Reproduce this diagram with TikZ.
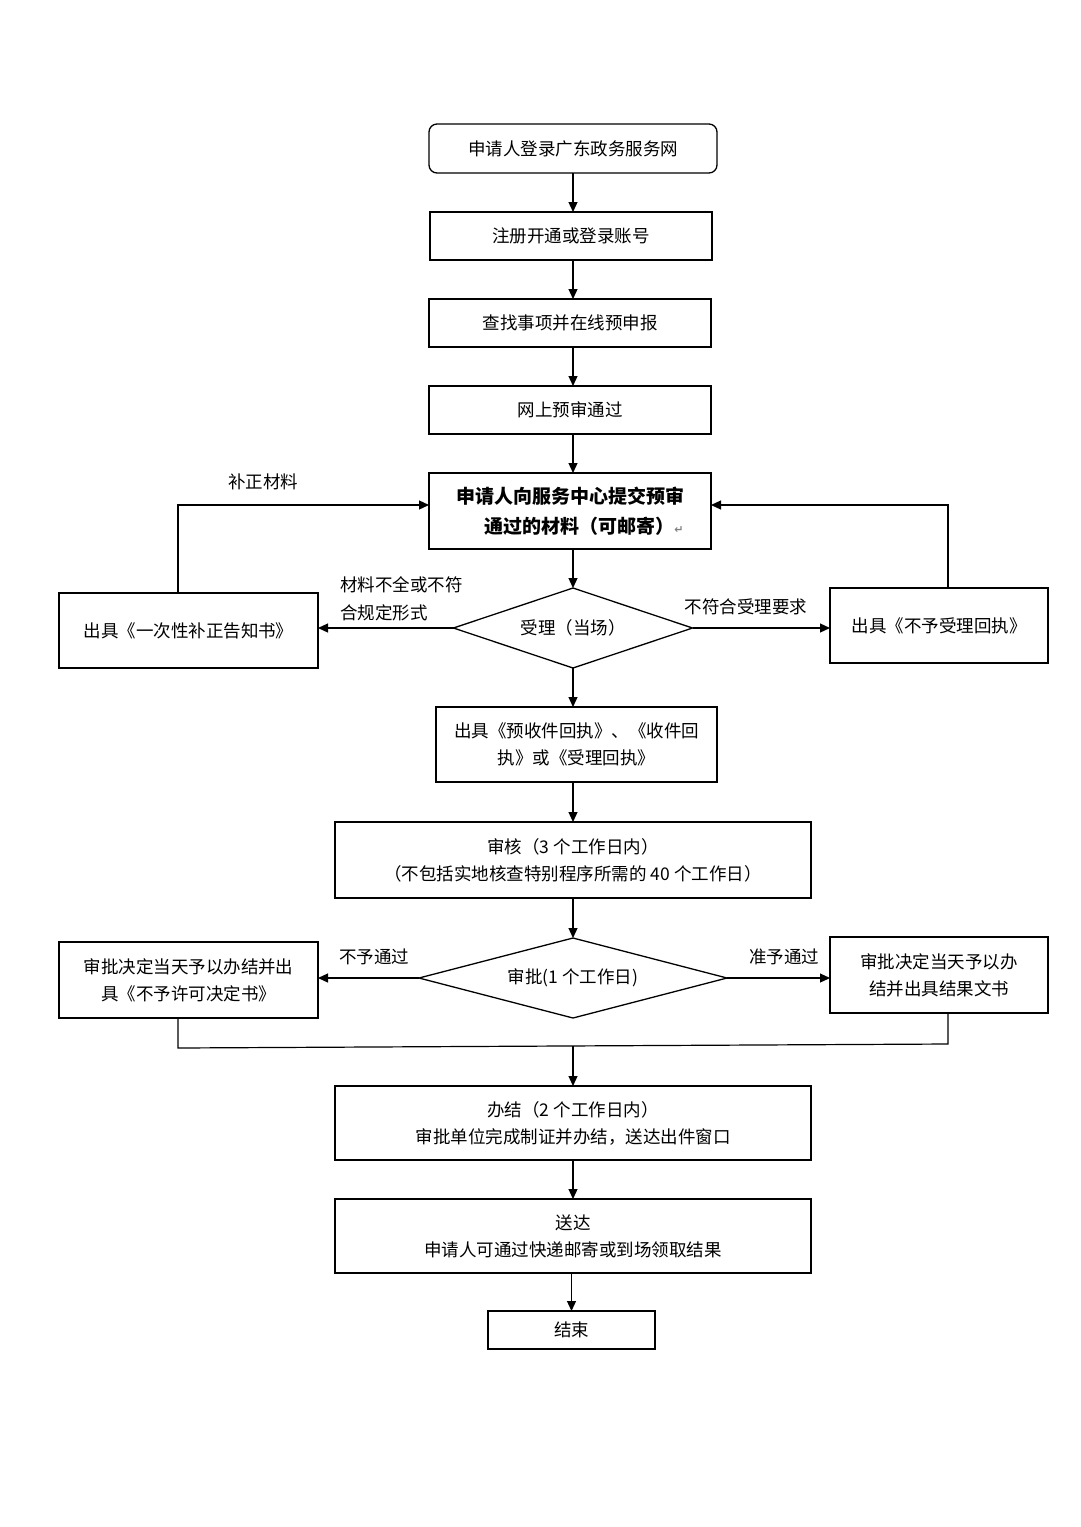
\documentclass[tikz,border=0pt]{standalone}
\usepackage{fontspec}
\setmainfont{Noto Sans CJK SC}
\newfontfamily\symfont{DejaVu Sans}
\usetikzlibrary{shapes.geometric,arrows.meta}
\begin{document}
\begin{tikzpicture}[x=1pt,y=-1pt,
  every node/.style={font=\fontsize{17.5}{27}\selectfont},
  box/.style={draw,line width=1.3pt,inner sep=0pt,outer sep=0pt,align=center},
  dia/.style={draw,line width=1.3pt,shape=diamond,aspect=3,inner sep=0pt,outer sep=0pt,align=center},
  arr/.style={line width=1.2pt,-{Triangle[length=10pt,width=9pt]}},
  ln/.style={line width=1.2pt},
  lbl/.style={inner sep=0pt,align=left}]
\useasboundingbox (0,0) rectangle (1080,1527);
\fill[white] (0,0) rectangle (1080,1527);

\coordinate (axis) at (573,0);

\node[box,rounded corners=8pt,minimum width=288,minimum height=49] (b1) at (573,148.5) {申请人登录广东政务服务网};
\node[box,minimum width=282,minimum height=48] (b2) at (571,236) {注册开通或登录账号};
\node[box,minimum width=282,minimum height=48] (b3) at (570,323) {查找事项并在线预申报};
\node[box,minimum width=282,minimum height=48] (b4) at (570,410) {网上预审通过};
\node[box,minimum width=282,minimum height=76,font=\fontsize{19}{30}\selectfont\bfseries] (b5) at (570,511)
  {申请人向服务中心提交预审\\\hspace*{28pt}通过的材料（可邮寄）{\symfont\color{gray}\fontsize{11}{11}\selectfont ↵}};

\node[dia,minimum width=239,minimum height=80] (d1) at (573,628) {受理（当场）};
\node[box,minimum width=259,minimum height=75] (bl1) at (188.5,630.5) {出具《一次性补正告知书》};
\node[box,minimum width=218,minimum height=75] (br1) at (939,625.5) {出具《不予受理回执》};

\node[box,minimum width=281,minimum height=75] (b6) at (576.5,744.5) {出具《预收件回执》、《收件回\\执》或《受理回执》};
\node[box,minimum width=476,minimum height=76] (b7) at (573,860) {审核（3 个工作日内）\\（不包括实地核查特别程序所需的 40 个工作日）};

\node[dia,minimum width=308,minimum height=80] (d2) at (573,978) {审批(1 个工作日)};
\node[box,minimum width=259,minimum height=76] (bl2) at (188.5,980) {审批决定当天予以办结并出\\具《不予许可决定书》};
\node[box,minimum width=218,minimum height=76] (br2) at (939,975) {审批决定当天予以办\\结并出具结果文书};

\node[box,minimum width=476,minimum height=74] (b8) at (573,1123) {办结（2 个工作日内）\\审批单位完成制证并办结，送达出件窗口};
\node[box,minimum width=476,minimum height=74] (b9) at (573,1236) {送达\\申请人可通过快递邮寄或到场领取结果};
\node[box,minimum width=167,minimum height=38] (b10) at (571.5,1330) {结束};

% main flow
\draw[arr] (b1.south -| axis) -- (b2.north -| axis);
\draw[arr] (b2.south -| axis) -- (b3.north -| axis);
\draw[arr] (b3.south -| axis) -- (b4.north -| axis);
\draw[arr] (b4.south -| axis) -- (b5.north -| axis);
\draw[arr] (b5.south -| axis) -- (d1.north);
\draw[arr] (d1.south) -- (b6.north -| axis);
\draw[arr] (b6.south -| axis) -- (b7.north -| axis);
\draw[arr] (b7.south -| axis) -- (d2.north);

% side branches
\draw[arr] (d1.west) -- (d1.west -| bl1.east);
\draw[arr] (d1.east) -- (d1.east -| br1.west);
\draw[arr] (d2.west) -- (d2.west -| bl2.east);
\draw[arr] (d2.east) -- (d2.east -| br2.west);

% feedback loops
\coordinate (fl) at (178,505);
\coordinate (fr) at (948,505);
\draw[arr] (bl1.north -| fl) -- (fl) -- (fl -| b5.west);
\draw[arr] (br1.north -| fr) -- (fr) -- (fr -| b5.east);

% merge
\coordinate (ml) at (178,1048);
\coordinate (mr) at (948,1044);
\coordinate (mc) at (573,1046);
\draw[ln] (bl2.south -| ml) -- (ml) -- (mr) -- (br2.south -| mr);
\draw[arr] (mc) -- (b8.north -| mc);

\draw[arr] (b8.south -| axis) -- (b9.north -| axis);
\draw[arr] (b9.south -| b10.north) -- (b10.north);

% labels
\node[lbl] (l1) at (263,482) {补正材料};
\node[lbl,anchor=west] (l2) at (340,585) {材料不全或不符};
\node[lbl,anchor=west] (l3) at (340,613) {合规定形式};
\node[lbl] (l4) at (746,607) {不符合受理要求};
\node[lbl] (l5) at (374,957) {不予通过};
\node[lbl] (l6) at (784,957) {准予通过};
\end{tikzpicture}
\end{document}
